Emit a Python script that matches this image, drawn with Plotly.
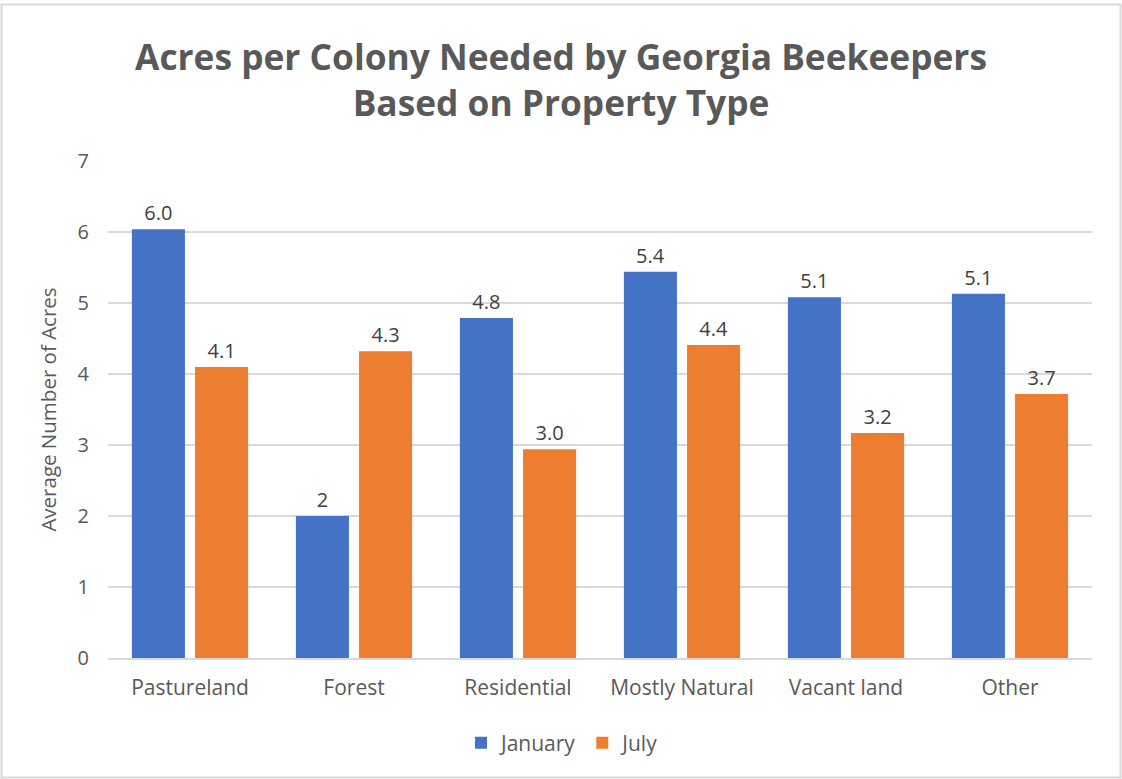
import plotly.graph_objects as go

categories = ["Pastureland", "Forest", "Residential", "Mostly Natural", "Vacant land", "Other"]
january = [6.04, 2.0, 4.79, 5.44, 5.08, 5.13]
july = [4.10, 4.32, 2.94, 4.41, 3.17, 3.72]
january_labels = ["6.0", "2", "4.8", "5.4", "5.1", "5.1"]
july_labels = ["4.1", "4.3", "3.0", "4.4", "3.2", "3.7"]
y_ticks = [0, 1, 2, 3, 4, 5, 6, 7]

FONT = "'Open Sans', sans-serif"
W, H = 1122, 779
PL, PR, PT, PB = 108, 1092, 161, 658
ML, MR, MT, MB = PL, W - PR, PT, H - PB
pw, ph = PR - PL, PB - PT

def px_x(x):
    return (x - PL) / pw

def px_y(y):
    return (PB - y) / ph

fig = go.Figure()
fig.add_trace(go.Bar(
    x=categories, y=january, name="January",
    text=january_labels, textposition="outside", cliponaxis=False,
    textfont=dict(size=20, color="#404040", family=FONT),
    marker=dict(color="#4472C4", line=dict(width=0)),
))
fig.add_trace(go.Bar(
    x=categories, y=july, name="July",
    text=july_labels, textposition="outside", cliponaxis=False,
    textfont=dict(size=20, color="#404040", family=FONT),
    marker=dict(color="#ED7D31", line=dict(width=0)),
))

fig.update_layout(
    width=W, height=H,
    margin=dict(l=ML, r=MR, t=MT, b=MB),
    paper_bgcolor="white", plot_bgcolor="white",
    font=dict(family=FONT, color="#595959"),
    title=dict(
        text="<b>Acres per Colony Needed by Georgia Beekeepers<br>Based on Property Type</b>",
        x=px_x(561), xanchor="center", xref="paper",
        y=1 - 70 / H, yanchor="middle", yref="container",
        font=dict(size=35.3, color="#595959", family=FONT),
    ),
    barmode="group", bargap=0.23, bargroupgap=0.16,
    showlegend=True,
    legend=dict(
        orientation="h", x=px_x(563), xanchor="center",
        y=px_y(743), yanchor="middle",
        font=dict(size=21, color="#595959", family=FONT),
        traceorder="normal",
    ),
)
fig.update_xaxes(
    showgrid=False, showline=True, linecolor="#D9D9D9", linewidth=1.5,
    ticks="", ticklabelstandoff=10, tickfont=dict(size=21, color="#595959", family=FONT),
)
fig.update_yaxes(
    range=[0, 7], tickvals=y_ticks, showgrid=True, gridcolor="#D9D9D9", gridwidth=1.5,
    zeroline=False, showline=False, ticks="", ticklabelstandoff=18,
    tickfont=dict(size=20, color="#595959", family=FONT),
    title=dict(text="Average Number of Acres", font=dict(size=20.5, color="#595959", family=FONT), standoff=15),
)
fig.add_shape(
    type="rect", xref="paper", yref="paper",
    x0=px_x(1.5), x1=px_x(1120.5), y0=px_y(777.5), y1=px_y(4.5),
    line=dict(color="#D9D9D9", width=2), fillcolor="rgba(0,0,0,0)", layer="below",
)
fig.write_html("out.html", config={"displayModeBar": False},
               post_script="document.body.style.margin='0';")
